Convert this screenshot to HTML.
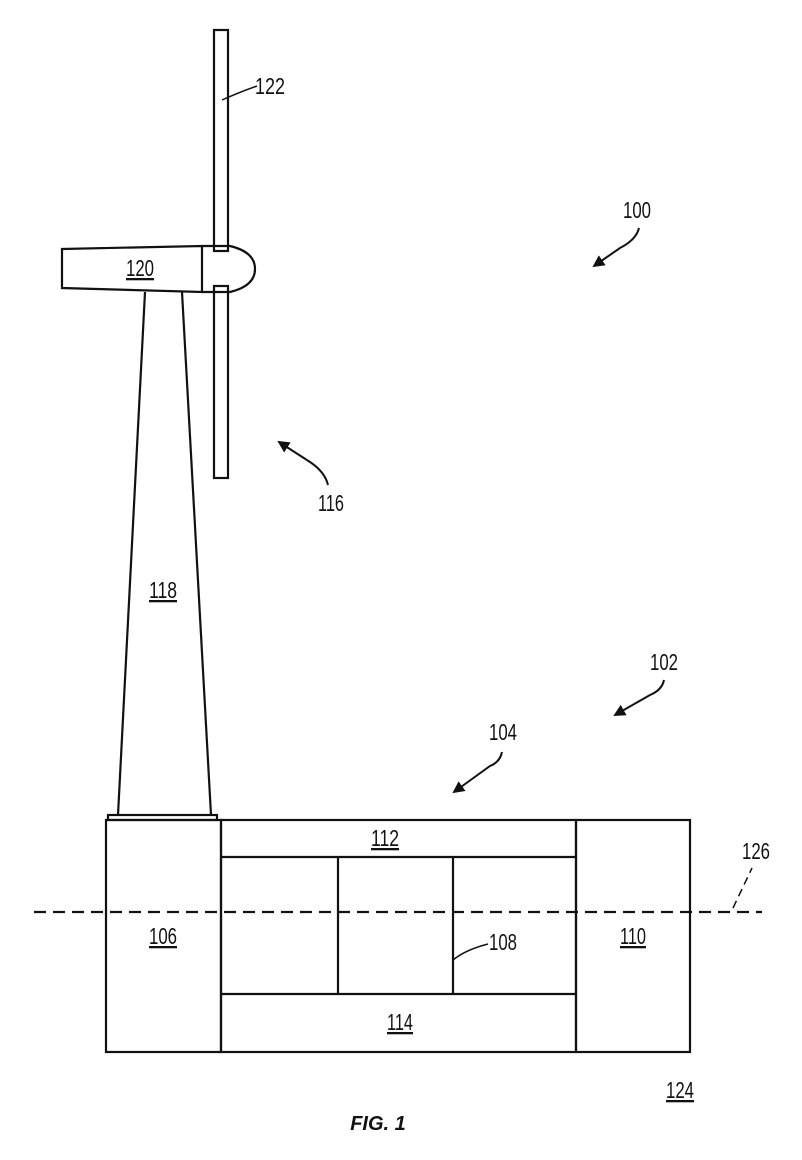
<!DOCTYPE html>
<html><head><meta charset="utf-8"><style>
html,body{margin:0;padding:0;background:#fff}
svg{display:block}
text{font-family:"Liberation Sans",sans-serif;font-size:23px;fill:#111}
</style></head><body>
<svg width="802" height="1160" viewBox="0 0 802 1160" xmlns="http://www.w3.org/2000/svg">
<defs><marker id="ah" markerWidth="12" markerHeight="12" refX="10" refY="6" orient="auto" markerUnits="userSpaceOnUse"><path d="M0,0 L12,6 L0,12 z" fill="#111"/></marker></defs>
<g fill="none" stroke="#111" stroke-width="2.2">
<rect x="214" y="30" width="14" height="221"/>
<rect x="214" y="286" width="14" height="192"/>
<path d="M62,249 L202,246 L202,292 L62,288 Z"/>
<path d="M202,246 L230,246 Q255,252 255,269 Q255,286 230,292 L202,292"/>
<path d="M145,292 L118,815 M182,292 L211,815"/>
<rect x="108" y="815" width="109" height="5"/>
<rect x="106" y="820" width="115" height="232"/>
<rect x="221" y="820" width="355" height="232"/>
<rect x="576" y="820" width="114" height="232"/>
<line x1="221" y1="857" x2="576" y2="857"/>
<line x1="221" y1="994" x2="576" y2="994"/>
<line x1="338" y1="857" x2="338" y2="994"/>
<line x1="453" y1="857" x2="453" y2="994"/>
<line x1="34" y1="912" x2="762" y2="912" stroke-dasharray="12,7"/>
<path d="M222,100 Q240,92 257,86" stroke-width="1.5"/>
<path d="M453,960 Q465,950 488,944" stroke-width="1.5"/>
<path d="M733,908 L752,868" stroke-width="1.5" stroke-dasharray="8,5"/>
<path d="M639,228 Q636,240 620,248 L594,266" stroke-width="2" marker-end="url(#ah)"/>
<path d="M328,485 Q325,472 310,462 L279,442" stroke-width="2" marker-end="url(#ah)"/>
<path d="M664,680 Q662,690 650,695 L615,715" stroke-width="2" marker-end="url(#ah)"/>
<path d="M502,752 Q500,762 490,766 L454,792" stroke-width="2" marker-end="url(#ah)"/>
</g>
<g text-anchor="middle">
<text x="270" y="94" textLength="30" lengthAdjust="spacingAndGlyphs">122</text>
<text x="140" y="276" textLength="28" lengthAdjust="spacingAndGlyphs" text-decoration="underline">120</text>
<text x="637" y="218" textLength="28" lengthAdjust="spacingAndGlyphs">100</text>
<text x="331" y="511" textLength="26" lengthAdjust="spacingAndGlyphs">116</text>
<text x="163" y="598" textLength="28" lengthAdjust="spacingAndGlyphs" text-decoration="underline">118</text>
<text x="664" y="670" textLength="28" lengthAdjust="spacingAndGlyphs">102</text>
<text x="503" y="740" textLength="28" lengthAdjust="spacingAndGlyphs">104</text>
<text x="385" y="846" textLength="28" lengthAdjust="spacingAndGlyphs" text-decoration="underline">112</text>
<text x="163" y="944" textLength="28" lengthAdjust="spacingAndGlyphs" text-decoration="underline">106</text>
<text x="503" y="950" textLength="28" lengthAdjust="spacingAndGlyphs">108</text>
<text x="633" y="944" textLength="26" lengthAdjust="spacingAndGlyphs" text-decoration="underline">110</text>
<text x="400" y="1030" textLength="26" lengthAdjust="spacingAndGlyphs" text-decoration="underline">114</text>
<text x="756" y="859" textLength="28" lengthAdjust="spacingAndGlyphs">126</text>
<text x="680" y="1098" textLength="28" lengthAdjust="spacingAndGlyphs" text-decoration="underline">124</text>
<text x="378" y="1130" style="font-style:italic;font-weight:bold;font-size:20px">FIG. 1</text>
</g>
</svg>
</body></html>
